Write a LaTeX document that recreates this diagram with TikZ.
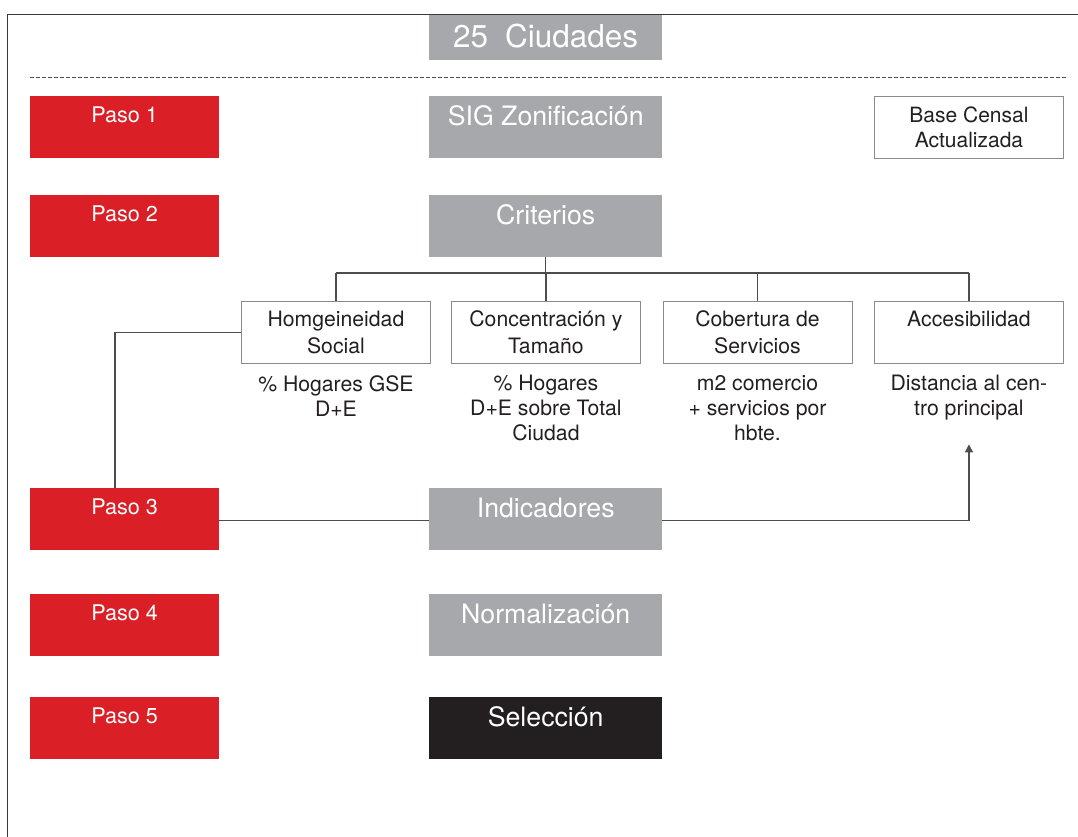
\documentclass[tikz,border=0pt]{standalone}
\usepackage{fontspec}
\setmainfont{TeX Gyre Heros}
\usetikzlibrary{arrows.meta,calc}
\definecolor{pasored}{HTML}{DA1F26}
\definecolor{boxgray}{HTML}{A7A8AB}
\definecolor{boxblack}{HTML}{231F20}
\definecolor{linegray}{HTML}{4D4D4F}
\definecolor{framegray}{HTML}{3A3A3A}
\definecolor{outline}{HTML}{8A8A8C}
\definecolor{txt}{HTML}{231F20}
\begin{document}
\begin{tikzpicture}[x=1pt,y=-1pt,
 pasobox/.style={fill=pasored, text=white, minimum width=189pt, minimum height=62pt, inner sep=0pt, anchor=north west, font=\fontsize{21.6}{25}\selectfont, text height=16pt, text depth=25.4pt},
 graybox/.style={fill=boxgray, text=white, minimum width=233pt, minimum height=62pt, inner sep=0pt, anchor=north west, font=\fontsize{26.7}{30}\selectfont, text height=19pt, text depth=22.4pt},
 critbox/.style={draw=outline, line width=0.9pt, text=txt, minimum width=189pt, minimum height=61.5pt, inner sep=0pt, anchor=north west, align=center, font=\fontsize{21.2}{26.6}\selectfont},
 note/.style={text=txt, inner sep=0pt, anchor=north, align=center, font=\fontsize{21.2}{25}\selectfont},
 conn/.style={draw=linegray, line width=1.4pt},
]
\useasboundingbox (0,0) rectangle (1078,837);

% title box
\node[graybox, minimum height=44.5pt, font=\fontsize{31.5}{35}\selectfont, text height=23pt, text depth=3.5pt] (title) at (429,15) {25\hspace{17pt}Ciudades};

% frame and dashed separator
\draw[framegray, line width=1pt] (1078,15) -- (7,15) -- (7,837);
\draw[linegray, line width=0.9pt, dash pattern=on 4pt off 2pt] (30,77.7) -- (1066,77.7);

% steps
\node[pasobox] (p1) at (30,96) {Paso 1};
\node[pasobox] (p2) at (30,195) {Paso 2};
\node[pasobox] (p3) at (30,487.5) {Paso 3};
\node[pasobox] (p4) at (30,594) {Paso 4};
\node[pasobox] (p5) at (30,697) {Paso 5};

% central column
\node[graybox] (sig) at (429,96) {SIG Zonificación};
\node[graybox] (crit) at (429,195) {Criterios};
\node[graybox] (ind) at (429,487.5) {Indicadores};
\node[graybox] (norm) at (429,594) {Normalización};
\node[graybox, fill=boxblack] (sel) at (429,697) {Selección};

% base censal
\node[critbox, minimum height=62pt, font=\fontsize{21}{24.7}\selectfont] (base) at (874,96) {Base Censal\\Actualizada};

% criteria
\node[critbox] (c1) at (241,301) {Homgeineidad\\Social};
\node[critbox] (c2) at (451,301) {Concentración y\\Tamaño};
\node[critbox] (c3) at (662.5,301) {Cobertura de\\Servicios};
\node[critbox] (c4) at (874,301) {Accesibilidad\\\mbox{}};

% notes
\node[note] (n1) at (c1.north |- 0,375) {\% Hogares GSE\\D+E};
\node[note] (n2) at (c2.north |- 0,375) {\% Hogares\\D+E sobre Total\\Ciudad};
\node[note] (n3) at (c3.north |- 0,375) {m2 comercio\\+ servicios por\\hbte.};
\node[note] (n4) at (c4.north |- 0,375) {Distancia al cen-\\tro principal};

% tree
\coordinate (busL) at (c1.north |- 0,273);
\coordinate (busR) at (c4.north |- 0,273);
\draw[conn] (busL) -- (busR);
\draw[conn] (crit.south) -- (crit.south |- busL);
\draw[conn] (c1.north) -- (busL);
\draw[conn] (c2.north) -- (c2.north |- busL);
\draw[conn] (c3.north) -- (c3.north |- busL);
\draw[conn] (c4.north) -- (busR);

% left connector
\coordinate (kx) at (115,0);
\draw[conn] (c1.west) -| (kx |- p3.north);

% step 3 to indicators
\draw[conn] ($(p3.east)+(0,2)$) -- ($(ind.west)+(0,2)$);

% indicators to accessibility
\coordinate (tipA) at ([yshift=-81pt]c4.south);
\draw[conn, -{Triangle[length=8pt,width=8pt]}] ($(ind.east)+(0,2)$) -| (tipA);
\end{tikzpicture}
\end{document}
